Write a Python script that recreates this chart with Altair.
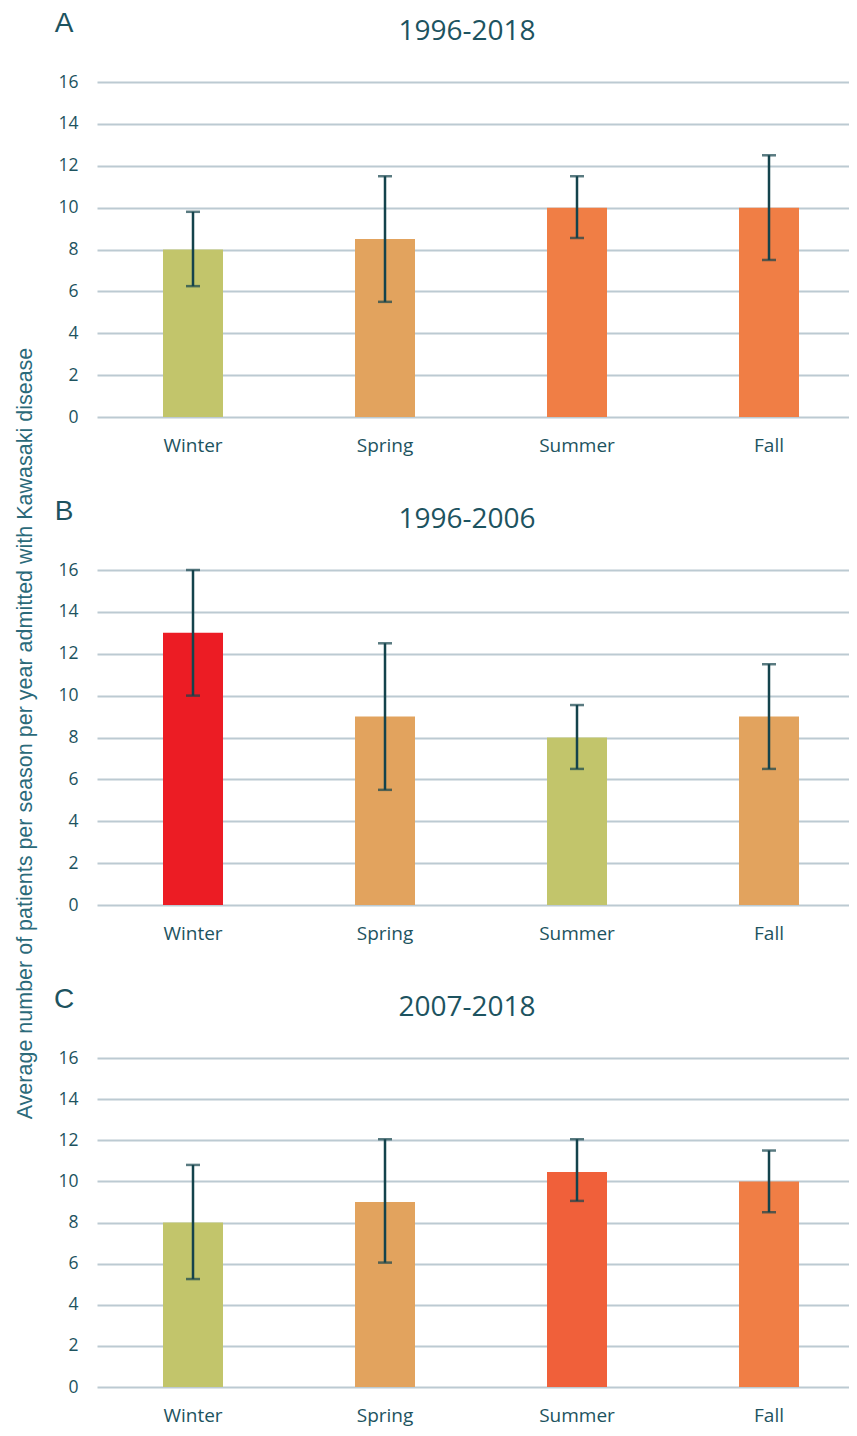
import altair as alt
import pandas as pd

seasons = ["Winter", "Spring", "Summer", "Fall"]

titles = ["1996-2018", "1996-2006", "2007-2018"]
letters = ["A", "B", "C"]

a_mean = [8.0, 8.5, 10.0, 10.0]
a_low = [6.25, 5.5, 8.55, 7.5]
a_high = [9.8, 11.5, 11.5, 12.5]
a_colors = ["#C2C56B", "#E2A35E", "#F07E45", "#F07E45"]

b_mean = [13.0, 9.0, 8.0, 9.0]
b_low = [10.0, 5.5, 6.5, 6.5]
b_high = [16.0, 12.5, 9.55, 11.5]
b_colors = ["#EC1C24", "#E2A35E", "#C2C56B", "#E2A35E"]

c_mean = [8.0, 9.0, 10.45, 10.0]
c_low = [5.25, 6.05, 9.05, 8.5]
c_high = [10.8, 12.05, 12.05, 11.5]
c_colors = ["#C2C56B", "#E2A35E", "#F0603A", "#F07E45"]

y_ticks = [0, 2, 4, 6, 8, 10, 12, 14, 16]
y_title = "Average number of patients per season per year admitted with Kawasaki disease"

TEXT = "#1D5360"
ERR = "#14434C"
GRID = "#BCCAD2"


def panel(idx, mean, low, high, colors, height, show_title):
    df = pd.DataFrame({"season": seasons, "mean": mean, "low": low,
                       "high": high, "color": colors})
    common = dict(values=y_ticks, grid=True, gridColor=GRID, gridWidth=2,
                  domain=False, ticks=False, labelFont="Open Sans",
                  labelFontSize=17.5, labelColor=TEXT, labelPadding=19)
    if show_title:
        yaxis = alt.Axis(title=y_title, titleFont="Liberation Sans",
                         titleFontSize=21.5, titleFontWeight="normal",
                         titleColor="#2B6A7A", titleAngle=270,
                         titleAlign="center", titleBaseline="middle",
                         titleX=-72, titleY=163, **common)
    else:
        yaxis = alt.Axis(title=None, **common)
    x = alt.X("season:N", sort=seasons,
              scale=alt.Scale(paddingInner=0.6875, paddingOuter=0.3021, align=0.569),
              axis=alt.Axis(title=None, labelAngle=0, domain=False, ticks=False,
                            labelFont="Open Sans", labelFontSize=19,
                            labelColor=TEXT, labelPadding=19))
    yscale = alt.Scale(domain=[0, 16], nice=False)
    base = alt.Chart(df)
    bars = base.mark_bar().encode(
        x=x,
        y=alt.Y("mean:Q", scale=yscale, axis=yaxis),
        color=alt.Color("color:N", scale=None),
    )
    rule = base.mark_rule(color=ERR, strokeWidth=2.5).encode(
        x=alt.X("season:N", sort=seasons), y="low:Q", y2="high:Q")
    tlow = base.mark_tick(color=ERR, size=14, thickness=2.5).encode(
        x=alt.X("season:N", sort=seasons), y="low:Q")
    thigh = base.mark_tick(color=ERR, size=14, thickness=2.5).encode(
        x=alt.X("season:N", sort=seasons), y="high:Q")
    tdf = pd.DataFrame({"t": [titles[idx]]})
    ttl = alt.Chart(tdf).mark_text(font="Open Sans", fontSize=28, color=TEXT,
                                   align="center", baseline="middle").encode(
        text="t:N", x=alt.value(370), y=alt.value(-50))
    ldf = pd.DataFrame({"t": [letters[idx]]})
    let = alt.Chart(ldf).mark_text(font="Liberation Sans", fontSize=28, color=TEXT,
                                   align="center", baseline="middle").encode(
        text="t:N", x=alt.value(-33), y=alt.value(-58))
    return alt.layer(bars, rule, tlow, thigh, ttl, let).properties(
        width=752, height=height)


pa = panel(0, a_mean, a_low, a_high, a_colors, 335, False)
pb = panel(1, b_mean, b_low, b_high, b_colors, 335, True)
pc = panel(2, c_mean, c_low, c_high, c_colors, 329, False)

chart = alt.vconcat(pa, pb, pc, spacing=153, bounds="flush").properties(
    padding={"left": 5, "top": 2, "right": 0, "bottom": 1}
).configure_view(stroke=None)

chart.save("out.html", embed_options={"renderer": "svg", "actions": False})
